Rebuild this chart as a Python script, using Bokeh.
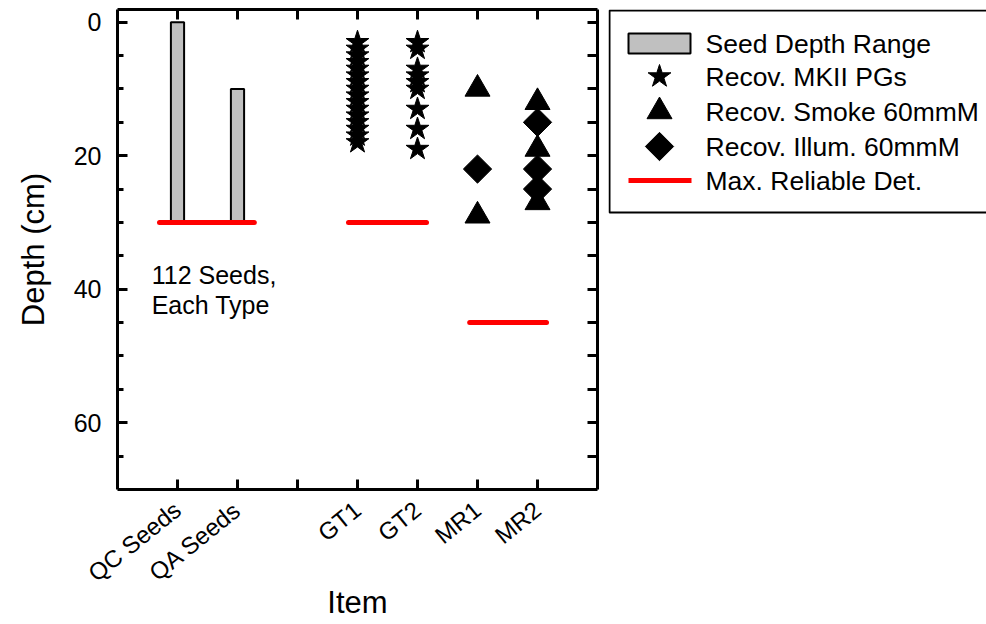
import math
from bokeh.plotting import figure
from bokeh.layouts import row
from bokeh.models import Range1d, LinearAxis, FixedTicker, Label
from bokeh.core.properties import value
from bokeh.embed import file_html
from bokeh.resources import INLINE

# ---------------- data ----------------
categories = ["QC Seeds", "QA Seeds", "", "GT1", "GT2", "MR1", "MR2"]
item_pos = [1, 2, 3, 4, 5, 6, 7]

seed_x = [1, 2]
seed_top = [0, 10]
seed_bottom = [30, 30]

gt1_x = 4
gt1_depths = [3, 4, 5, 6, 7, 8, 9, 10, 11, 12, 13, 14, 15, 16, 17, 18]
gt2_x = 5
gt2_depths = [3, 4, 7, 8, 9, 10, 13, 16, 19]

mr1_x = 6
mr1_smoke = [10, 29]
mr1_illum = [22]
mr2_x = 7
mr2_smoke = [12, 19, 27]
mr2_illum = [15, 22, 25]

det_depth = [30, 30, 45]
det_x0 = [0.7, 3.85, 5.87]
det_x1 = [2.28, 5.15, 7.15]

y_major = [0, 20, 40, 60]
y_minor = [5, 10, 15, 25, 30, 35, 45, 50, 55, 65]

note_lines = ["112 Seeds,", "Each Type"]

legend_labels = ["Seed Depth Range", "Recov. MKII PGs", "Recov. Smoke 60mmM",
                 "Recov. Illum. 60mmM", "Max. Reliable Det."]

FONT = "Liberation Sans"

# ---------------- main figure ----------------
p = figure(width=608, height=624, output_backend="svg", toolbar_location=None,
           x_range=Range1d(0, 8), y_range=Range1d(70, -1.9),
           x_axis_location=None, y_axis_location=None,
           min_border_left=117, min_border_right=11,
           min_border_top=9, min_border_bottom=135)
p.outline_line_color = None
p.xgrid.visible = False
p.ygrid.visible = False
p.background_fill_color = "white"
p.border_fill_color = "white"


def style_axis(ax, major_in=10, minor_in=6, labels=True):
    ax.axis_line_width = 3
    ax.axis_line_color = "black"
    ax.major_tick_line_width = 3
    ax.minor_tick_line_width = 3
    ax.major_tick_line_color = "black"
    ax.minor_tick_line_color = "black"
    ax.major_tick_in = major_in
    ax.major_tick_out = 0
    ax.minor_tick_in = minor_in
    ax.minor_tick_out = 0
    ax.major_label_text_font = FONT
    ax.axis_label_text_font = FONT
    ax.axis_label_text_font_style = "normal"
    ax.axis_label_text_color = "black"
    if labels:
        ax.major_label_text_color = "black"
        ax.major_label_text_font_size = "25px"
        ax.axis_label_text_font_size = "31px"
    else:
        ax.major_label_text_color = None
        ax.major_label_text_font_size = "1px"
        ax.major_label_standoff = 0


xticker = FixedTicker(ticks=item_pos, minor_ticks=[])
yticker = FixedTicker(ticks=y_major, minor_ticks=y_minor)

xb = LinearAxis(ticker=xticker, axis_label="Item")
style_axis(xb, 10, 0)
xb.major_label_text_font_size = "24px"
xb.major_label_overrides = {pos: lab for pos, lab in zip(item_pos, categories)}
xb.major_label_orientation = 0.68
xb.major_label_standoff = 17
xb.axis_label_standoff = -15
p.add_layout(xb, "below")

xt = LinearAxis(ticker=xticker)
style_axis(xt, 10, 0, labels=False)
p.add_layout(xt, "above")

yl = LinearAxis(ticker=yticker, axis_label="Depth (cm)")
style_axis(yl, 10, 6)
yl.major_label_standoff = 16
yl.axis_label_standoff = 20
p.add_layout(yl, "left")

yr = LinearAxis(ticker=yticker)
style_axis(yr, 10, 10, labels=False)
p.add_layout(yr, "right")

# ---------------- data marks ----------------
p.vbar(x=seed_x, top=seed_top, bottom=seed_bottom, width=0.22,
       fill_color="#c0c0c0", line_color="black", line_width=2)

p.segment(x0=det_x0, y0=det_depth, x1=det_x1, y1=det_depth,
          line_color="#ff0000", line_width=5, line_cap="round")

star_x = [gt1_x] * len(gt1_depths) + [gt2_x] * len(gt2_depths)
star_y = gt1_depths + gt2_depths
p.scatter(x=star_x, y=star_y, marker="star", size=24,
          fill_color="black", line_color="black")

tri_x = [mr1_x] * len(mr1_smoke) + [mr2_x] * len(mr2_smoke)
tri_y = mr1_smoke + mr2_smoke
p.scatter(x=tri_x, y=tri_y, marker="triangle", size=25,
          fill_color="black", line_color="black")

dia_x = [mr1_x] * len(mr1_illum) + [mr2_x] * len(mr2_illum)
dia_y = mr1_illum + mr2_illum
p.scatter(x=dia_x, y=dia_y, marker="square", angle=math.pi / 4, size=20,
          fill_color="black", line_color="black")

for i, line in enumerate(note_lines):
    p.add_layout(Label(x=0.57, y=35.8 + i * 4.5, text=line,
                       text_baseline="top", text_align="left",
                       text_font=FONT, text_font_size="25px", text_color="black"))

# ---------------- key panel (pixel coordinates of the page) ----------------
# the row aligns this panel's frame with the main frame (rows 9..489)
k = figure(width=378, height=624, output_backend="svg", toolbar_location=None,
           x_range=Range1d(608, 986), y_range=Range1d(489, 9),
           x_axis_location=None, y_axis_location=None,
           min_border_left=0, min_border_right=0,
           min_border_top=9, min_border_bottom=135)
k.outline_line_color = None
k.xgrid.visible = False
k.ygrid.visible = False
k.border_fill_color = "white"
k.background_fill_color = "white"

k.quad(left=[609], right=[1000], top=[10], bottom=[212], fill_color=None,
       line_color="black", line_width=2)
row_y = [43, 76, 111, 146, 180]
key_x = 659
k.rect(x=[key_x], y=[row_y[0]], width=62, height=20, fill_color="#c0c0c0",
       line_color="black", line_width=2)
k.scatter(x=[key_x], y=[row_y[1]], marker="star", size=24,
          fill_color="black", line_color="black")
k.scatter(x=[key_x], y=[row_y[2]], marker="triangle", size=25,
          fill_color="black", line_color="black")
k.scatter(x=[key_x], y=[row_y[3]], marker="square", angle=math.pi / 4, size=20,
          fill_color="black", line_color="black")
k.segment(x0=[628], y0=[row_y[4]], x1=[691], y1=[row_y[4]],
          line_color="#ff0000", line_width=5)
k.text(x=[705] * 5, y=row_y, text=legend_labels, text_baseline="middle",
       text_align="left", text_font=value(FONT), text_font_size="26.5px",
       text_color="black")

layout = row(p, k)
open("out.html", "w").write(file_html(layout, INLINE))
